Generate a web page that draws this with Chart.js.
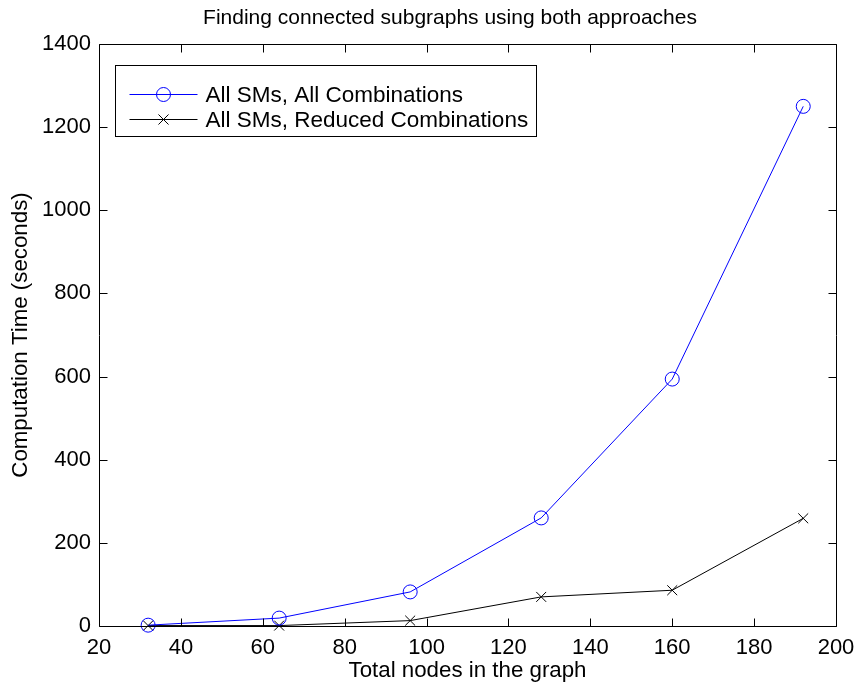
<!DOCTYPE html>
<html>
<head>
<meta charset="utf-8">
<script src="https://cdn.jsdelivr.net/npm/chart.js@4.4.1/dist/chart.umd.min.js"></script>
<style>
  html, body { margin: 0; padding: 0; background: #ffffff; }
  #wrap { position: relative; width: 858px; height: 684px; }
</style>
</head>
<body>
<div id="wrap"><canvas id="c" width="858" height="684"></canvas></div>
<script>
// ---- data ----
const nodeCounts = [32, 64, 96, 128, 160, 192];
const allCombinations = [2, 19, 82, 260, 594, 1250];
const reducedCombinations = [1, 1, 13, 70, 86, 259];
const xTickValues = [20, 40, 60, 80, 100, 120, 140, 160, 180, 200];
const yTickValues = [0, 200, 400, 600, 800, 1000, 1200, 1400];
const seriesLabels = ['All SMs, All Combinations', 'All SMs, Reduced Combinations'];
const titleText = 'Finding connected subgraphs using both approaches';
const xTitle = 'Total nodes in the graph';
const yTitle = 'Computation Time (seconds)';

const FONT = '"Liberation Sans", Arial, sans-serif';

const toPoints = (xs, ys) => xs.map((x, i) => ({ x: x, y: ys[i] }));

const framePlugin = {
  id: 'matlabFrame',
  afterDraw(chart) {
    const ctx = chart.ctx;
    const a = chart.chartArea;
    const xs = chart.scales.x, ys = chart.scales.y;
    const L = Math.round(a.left) + 0.5, R = Math.round(a.right) + 0.5;
    const T = Math.round(a.top) + 0.5, B = Math.round(a.bottom) + 0.5;
    const tl = 8;
    ctx.save();
    ctx.strokeStyle = '#000';
    ctx.lineWidth = 1;
    ctx.beginPath();
    ctx.rect(L, T, R - L, B - T);
    ctx.stroke();
    ctx.beginPath();
    xTickValues.forEach(v => {
      const px = Math.round(xs.getPixelForValue(v)) + 0.5;
      ctx.moveTo(px, B); ctx.lineTo(px, B - tl);
      ctx.moveTo(px, T); ctx.lineTo(px, T + tl);
    });
    yTickValues.forEach(v => {
      const py = Math.round(ys.getPixelForValue(v)) + 0.5;
      ctx.moveTo(L, py); ctx.lineTo(L + tl, py);
      ctx.moveTo(R, py); ctx.lineTo(R - tl, py);
    });
    ctx.stroke();

    // title
    ctx.fillStyle = '#000';
    ctx.font = '21px ' + FONT;
    ctx.textAlign = 'center';
    ctx.textBaseline = 'middle';
    ctx.fillText(titleText, 450, 18);

    // legend
    ctx.font = '22.5px ' + FONT;
    const bx = L + 16, by = T + 21;
    const rowH = 25;
    const textX = bx + 90;
    let maxW = 0;
    chart.data.datasets.forEach(ds => { maxW = Math.max(maxW, ctx.measureText(ds.label).width); });
    const bw = Math.round(textX - bx + maxW + 8);
    const bh = 71;
    ctx.fillStyle = '#fff';
    ctx.fillRect(bx, by, bw, bh);
    ctx.strokeStyle = '#000';
    ctx.lineWidth = 1;
    ctx.strokeRect(bx, by, bw, bh);
    chart.data.datasets.forEach((ds, i) => {
      const cy = Math.round(by + 28 + i * rowH) + 0.5;
      ctx.strokeStyle = ds.borderColor;
      ctx.lineWidth = 1;
      ctx.beginPath();
      ctx.moveTo(bx + 14, cy); ctx.lineTo(bx + 82, cy);
      ctx.stroke();
      const mx = bx + 48;
      ctx.beginPath();
      if (ds.pointStyle === 'circle') {
        ctx.arc(mx, cy, ds.pointRadius, 0, Math.PI * 2);
      } else {
        const r = ds.pointRadius * 0.72;
        ctx.moveTo(mx - r, cy - r); ctx.lineTo(mx + r, cy + r);
        ctx.moveTo(mx - r, cy + r); ctx.lineTo(mx + r, cy - r);
      }
      ctx.stroke();
      ctx.fillStyle = '#000';
      ctx.textBaseline = 'middle';
      ctx.textAlign = 'left';
      ctx.fillText(ds.label, textX, cy + 1);
    });
    ctx.restore();
  }
};

new Chart(document.getElementById('c'), {
  type: 'line',
  data: {
    datasets: [
      {
        label: seriesLabels[0],
        data: toPoints(nodeCounts, allCombinations),
        borderColor: '#0000ff',
        backgroundColor: 'rgba(0,0,0,0)',
        borderWidth: 1,
        pointStyle: 'circle',
        pointRadius: 7,
        pointBorderWidth: 1,
        pointBorderColor: '#0000ff',
        pointBackgroundColor: 'rgba(0,0,0,0)',
        tension: 0,
        clip: false
      },
      {
        label: seriesLabels[1],
        data: toPoints(nodeCounts, reducedCombinations),
        borderColor: '#000000',
        backgroundColor: 'rgba(0,0,0,0)',
        borderWidth: 1,
        pointStyle: 'crossRot',
        pointRadius: 7,
        pointBorderWidth: 1,
        pointBorderColor: '#000000',
        pointBackgroundColor: 'rgba(0,0,0,0)',
        tension: 0,
        clip: false
      }
    ]
  },
  options: {
    responsive: false,
    animation: false,
    devicePixelRatio: 1,
    layout: { padding: { left: 0, right: 22, top: 44, bottom: 0 } },
    plugins: {
      legend: { display: false },
      tooltip: { enabled: false },
      title: { display: false }
    },
    scales: {
      x: {
        type: 'linear',
        min: 20, max: 200,
        afterBuildTicks: s => { s.ticks = xTickValues.map(v => ({ value: v })); },
        afterFit: s => { s.height = 58; s.paddingLeft = 0; s.paddingRight = 0; },
        grid: { display: false, drawTicks: false },
        border: { display: false },
        ticks: { color: '#000', font: { family: FONT, size: 22 }, padding: 9, maxRotation: 0, callback: v => String(v) },
        title: { display: true, text: xTitle, color: '#000', font: { family: FONT, size: 22.3 }, padding: { top: 0, bottom: 0 } }
      },
      y: {
        type: 'linear',
        min: 0, max: 1400,
        afterBuildTicks: s => { s.ticks = yTickValues.map(v => ({ value: v })); },
        afterFit: s => { s.width = 99; s.paddingTop = 0; s.paddingBottom = 0; },
        grid: { display: false, drawTicks: false },
        border: { display: false },
        ticks: { color: '#000', font: { family: FONT, size: 22 }, padding: 8, callback: v => String(v) },
        title: { display: true, text: yTitle, color: '#000', font: { family: FONT, size: 22.3 }, padding: { top: 7, bottom: 0 } }
      }
    }
  },
  plugins: [framePlugin]
});
</script>
</body>
</html>
